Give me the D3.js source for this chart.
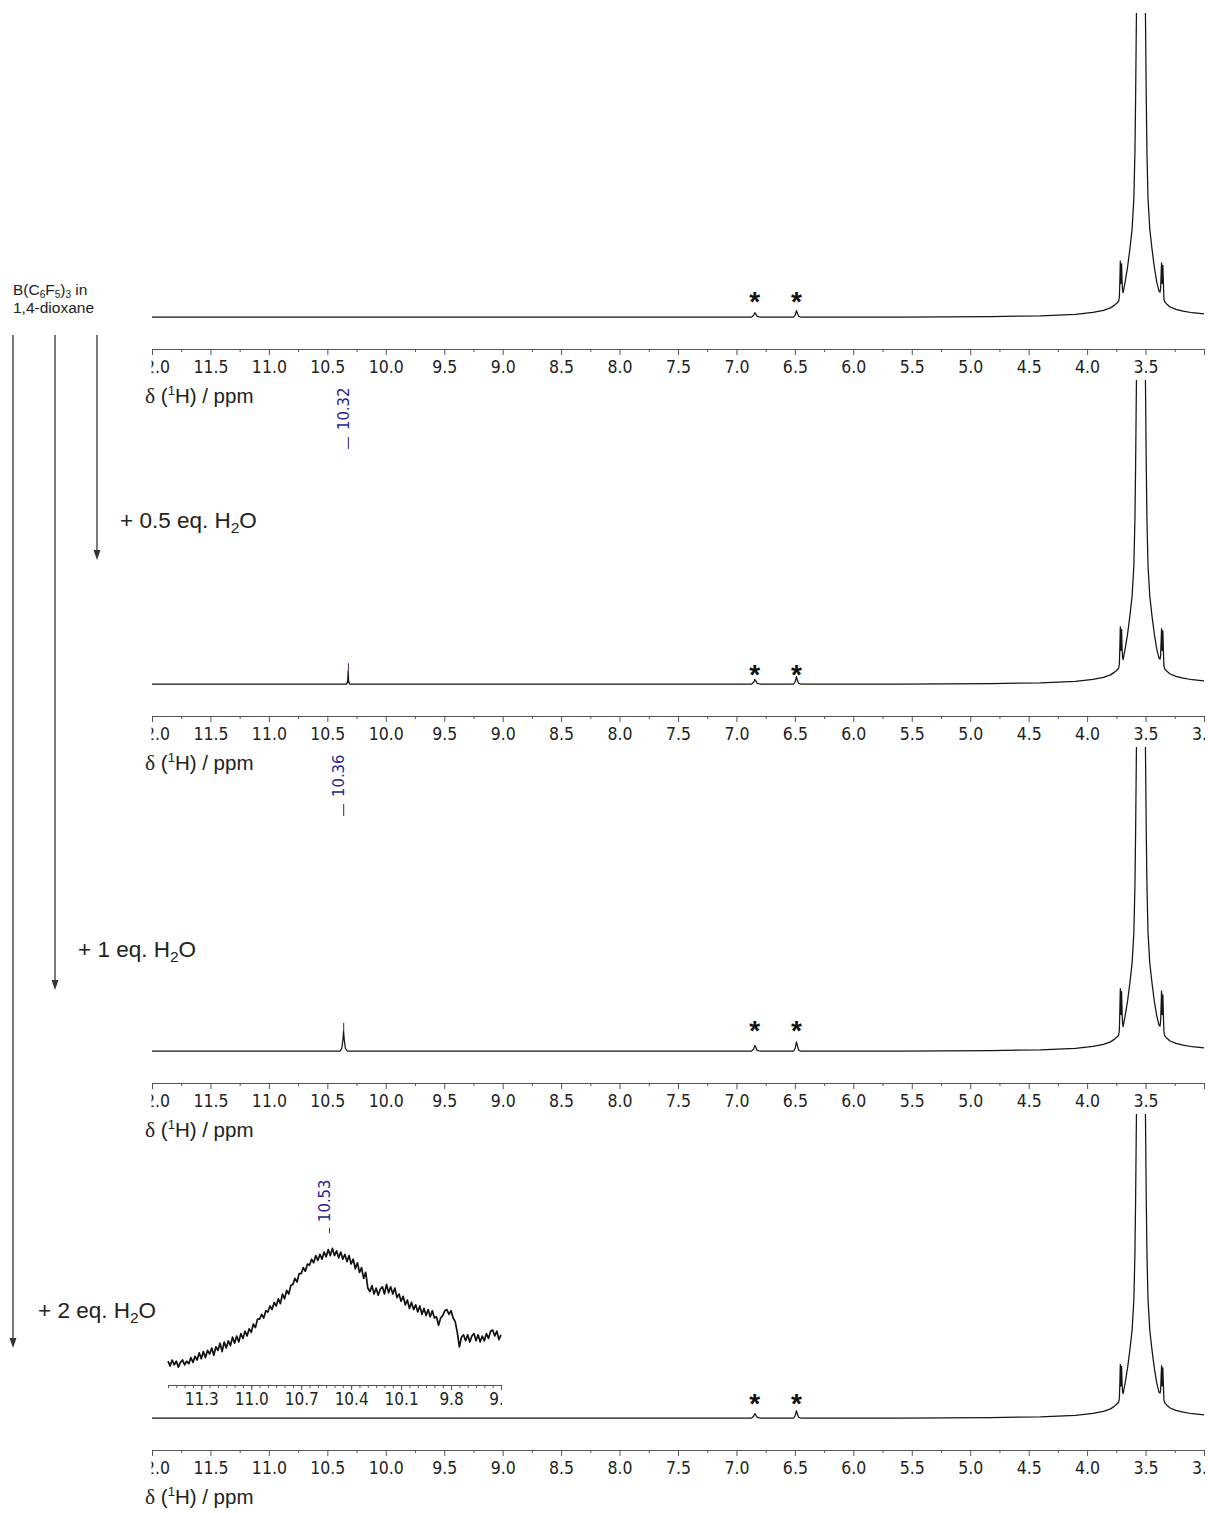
<!DOCTYPE html>
<html>
<head>
<meta charset="utf-8">
<script src="https://cdn.jsdelivr.net/npm/d3@7"></script>
<style>
  body { margin: 0; background: #fff; }
  svg { display: block; }
</style>
</head>
<body>
<div id="chart"></div>
<script>
// ---- data (ppm, intensity in % of panel height) ----
const axisTicks = [12.0, 11.5, 11.0, 10.5, 10.0, 9.5, 9.0, 8.5, 8.0, 7.5, 7.0, 6.5, 6.0, 5.5, 5.0, 4.5, 4.0, 3.5, 3.0];
const minorTicks = [11.75, 11.25, 10.75, 10.25, 9.75, 9.25, 8.75, 8.25, 7.75, 7.25, 6.75, 6.25, 5.75, 5.25, 4.75, 4.25, 3.75, 3.25];
const insetTicks = [11.3, 11.0, 10.7, 10.4, 10.1, 9.8, 9.5];

// dioxane signal, shared by the four spectra (satellites kept per spectrum)
const dioxaneTrace = [
  [12.0, 0], [5.6, 0], [4.82, 0.15], [4.40, 0.4], [4.10, 0.9], [3.95, 1.5], [3.86, 2.2],
  [3.80, 3.0], [3.765, 3.9], [3.745, 4.6], [3.73, 5.2],
  [3.692, 8.0], [3.675, 11.5], [3.654, 16.4], [3.634, 22.4], [3.615, 29], [3.600, 39],
  [3.591, 54], [3.585, 72], [3.578, 100], [3.565, 125], [3.540, 135], [3.515, 125],
  [3.501, 100], [3.494, 72], [3.488, 54], [3.479, 39], [3.464, 29], [3.445, 22.4],
  [3.425, 16.4], [3.404, 11.5], [3.385, 8.5], [3.376, 8.2],
  [3.336, 5.0], [3.32, 4.3], [3.29, 3.3], [3.24, 2.5], [3.18, 1.9], [3.10, 1.4], [3.0, 1.0]
];

const peaks1 = [
  [6.87, 0], [6.852, 0.6], [6.843, 1.4], [6.835, 1.0], [6.822, 0.2], [6.80, 0],
  [6.51, 0], [6.496, 0.8], [6.487, 2.1], [6.479, 1.3], [6.468, 0.2], [6.45, 0],
  [3.724, 6.5], [3.719, 13], [3.716, 18.4], [3.711, 11], [3.705, 17.5], [3.701, 12], [3.697, 9],
  [3.371, 9.5], [3.366, 15], [3.363, 17.8], [3.358, 11], [3.352, 17], [3.348, 12], [3.343, 6]
];
const peaks2 = [
  [10.335, 0], [10.326, 0.8], [10.322, 4.2], [10.318, 0.8], [10.309, 0],
  [6.87, 0], [6.852, 0.6], [6.843, 1.5], [6.835, 1.1], [6.822, 0.2], [6.80, 0],
  [6.51, 0], [6.496, 0.9], [6.487, 2.4], [6.479, 1.4], [6.468, 0.2], [6.45, 0],
  [3.724, 6.5], [3.719, 13.5], [3.716, 18.8], [3.711, 11], [3.705, 18], [3.701, 12], [3.697, 9],
  [3.371, 9.5], [3.366, 15], [3.363, 18.2], [3.358, 11], [3.352, 17.5], [3.348, 12], [3.343, 6]
];
const peaks3 = [
  [10.39, 0], [10.376, 1.0], [10.367, 3.6], [10.361, 6.6], [10.355, 3.6], [10.346, 1.0], [10.33, 0],
  [6.87, 0], [6.852, 0.7], [6.843, 1.8], [6.835, 1.3], [6.822, 0.2], [6.80, 0],
  [6.51, 0], [6.496, 1.1], [6.487, 3.0], [6.479, 1.8], [6.468, 0.3], [6.45, 0],
  [3.724, 7], [3.719, 15], [3.716, 20.5], [3.711, 12], [3.705, 19.5], [3.701, 13], [3.697, 9.5],
  [3.371, 10], [3.366, 16], [3.363, 19.8], [3.358, 12], [3.352, 18.5], [3.348, 12.5], [3.343, 6.5]
];
const peaks4 = [
  [6.87, 0], [6.852, 0.6], [6.843, 1.4], [6.835, 1.0], [6.822, 0.2], [6.80, 0],
  [6.51, 0], [6.496, 0.9], [6.487, 2.4], [6.479, 1.4], [6.468, 0.2], [6.45, 0],
  [3.724, 6.5], [3.719, 12.5], [3.716, 17.6], [3.711, 10.5], [3.705, 17], [3.701, 11.5], [3.697, 8.8],
  [3.371, 9.2], [3.366, 14.5], [3.363, 17.2], [3.358, 10.5], [3.352, 16.5], [3.348, 11.5], [3.343, 6]
];
const spectraPeaks = [peaks1, peaks2, peaks3, peaks4];

const starShifts = [6.843, 6.487];
const peakLabels = [null, 10.32, 10.36, null];
const showEndLabel = [false, true, false, true];

// inset of the 2 eq. spectrum, 11.5 -> 9.5 ppm in 0.0125 ppm steps
const insetStart = 11.5, insetStep = -0.0125;
const insetIntensity = [
  9, 5, 10, 6, 9, 4, 8, 10, 6, 9,
  7, 12, 8, 13, 10, 16, 11, 17, 12, 18,
  15, 20, 14, 21, 18, 24, 17, 25, 20, 26,
  22, 29, 24, 30, 25, 32, 28, 34, 30, 36,
  33, 40, 37, 44, 44, 48, 45, 51, 50, 55,
  52, 58, 55, 61, 57, 65, 61, 68, 65, 72,
  73, 78, 75, 82, 82, 87, 84, 90, 89, 94,
  91, 97, 93, 98, 94, 100, 96, 102, 97, 103,
  97, 101, 95, 100, 94, 98, 92, 97, 90, 94,
  86, 91, 83, 87, 78, 83, 70, 67, 72, 65,
  70, 64, 69, 71, 65, 73, 66, 71, 65, 70,
  62, 65, 59, 63, 56, 60, 53, 58, 52, 56,
  50, 55, 48, 53, 47, 52, 46, 51, 45, 46,
  39, 45, 47, 51, 52, 48, 51, 45, 42, 33,
  21, 29, 31, 26, 31, 25, 30, 32, 26, 31,
  25, 30, 26, 32, 28, 34, 35, 30, 34, 27, 31
];
const insetLabel = 10.53;

const waterEq = ["0.5", "1", "2"];

// ---- layout ----
const width = 1208, height = 1513;
const axisY = [349, 716, 1083, 1450];
const starLift = [22, 16, 27, 21];
const tickFont = "'DejaVu Sans Condensed', 'DejaVu Sans', sans-serif";
const textFont = "'Liberation Sans', Arial, sans-serif";
const blue = "#26268f";

const svg = d3.select("#chart").append("svg")
  .attr("width", width)
  .attr("height", height)
  .style("font-family", textFont);

const defs = svg.append("defs");

const x = d3.scaleLinear().domain([12, 3]).range([152, 1204]);

spectraPeaks.forEach((peaks, i) => {
  const ay = axisY[i];
  const y = d3.scaleLinear().domain([0, 100]).range([ay - 32, ay - 336]);
  const g = svg.append("g");

  defs.append("clipPath").attr("id", "plot" + i).append("rect")
    .attr("x", 151).attr("y", ay - 336).attr("width", 1057).attr("height", 320);
  defs.append("clipPath").attr("id", "ax" + i).append("rect")
    .attr("x", 151.5).attr("y", ay - 3).attr("width", 1053.5).attr("height", 40);

  const pts = dioxaneTrace.concat(peaks).sort((a, b) => b[0] - a[0]);
  g.append("path")
    .datum(pts)
    .attr("clip-path", `url(#plot${i})`)
    .attr("fill", "none")
    .attr("stroke", "#151515")
    .attr("stroke-width", 1.25)
    .attr("stroke-linejoin", "round")
    .attr("d", d3.line().x(d => x(d[0])).y(d => y(d[1])));

  // asterisks over the impurity peaks
  starShifts.forEach(s => {
    g.append("text")
      .attr("x", x(s))
      .attr("y", y(0) - starLift[i] + 16)
      .attr("text-anchor", "middle")
      .attr("font-weight", "bold")
      .attr("font-size", 28)
      .attr("fill", "#111")
      .text("*");
  });

  // axis
  const axG = g.append("g").attr("clip-path", `url(#ax${i})`);
  axG.append("g")
    .attr("transform", `translate(0,${ay})`)
    .call(d3.axisBottom(x).tickValues(minorTicks).tickSize(3).tickSizeOuter(0).tickFormat(""))
    .call(a => a.select(".domain").remove())
    .call(a => a.selectAll("line").attr("stroke", "#555"));
  axG.append("g")
    .attr("transform", `translate(0,${ay})`)
    .call(d3.axisBottom(x).tickValues(axisTicks).tickSize(6).tickSizeOuter(0).tickPadding(6)
      .tickFormat(v => (v === 3.0 && !showEndLabel[i]) ? "" : d3.format(".1f")(v)))
    .call(a => a.select(".domain").attr("stroke", "#555"))
    .call(a => a.selectAll("line").attr("stroke", "#555"))
    .call(a => a.selectAll("text")
      .attr("font-family", tickFont)
      .attr("font-size", 17.5)
      .attr("fill", "#222"));

  // axis title
  const t = g.append("text")
    .attr("x", 145)
    .attr("y", ay + 54)
    .attr("font-size", 20.5)
    .attr("fill", "#222");
  t.append("tspan").attr("font-family", "'Liberation Serif', serif").attr("font-size", 21.5).text("δ");
  t.append("tspan").text(" (");
  t.append("tspan").attr("font-size", 13).attr("dy", -8).text("1");
  t.append("tspan").attr("dy", 8).text("H) / ppm");

  // peak label
  if (peakLabels[i] !== null) {
    const px = x(peakLabels[i]);
    g.append("text")
      .attr("transform", `translate(${px + 0.5},${ay - 286}) rotate(-90)`)
      .attr("font-family", tickFont)
      .attr("font-size", 16.5)
      .attr("fill", blue)
      .text(d3.format(".2f")(peakLabels[i]));
    g.append("line")
      .attr("x1", px).attr("x2", px)
      .attr("y1", ay - 279).attr("y2", ay - 267)
      .attr("stroke", blue).attr("stroke-width", 1);
    const top = d3.max(peaks.filter(d => Math.abs(d[0] - peakLabels[i]) < 0.05), d => d[1]);
    g.append("line")
      .attr("x1", px).attr("x2", px)
      .attr("y1", y(top) - 8).attr("y2", y(top))
      .attr("stroke", blue).attr("stroke-width", 1);
  }
});

// ---- inset (2 eq. H2O, broad signal) ----
const ay4 = axisY[3];
const xi = d3.scaleLinear().domain([11.5, 9.5]).range([168, 501]);
const yi = d3.scaleLinear().domain([0, 100]).range([ay4 - 78, ay4 - 198]);
const inset = svg.append("g");
const insetPts = insetIntensity.map((v, k) => [insetStart + k * insetStep, v]);

inset.append("path")
  .datum(insetPts)
  .attr("fill", "none")
  .attr("stroke", "#111")
  .attr("stroke-width", 1.7)
  .attr("stroke-linejoin", "round")
  .attr("d", d3.line().x(d => xi(d[0])).y(d => yi(d[1])));

defs.append("clipPath").attr("id", "axInset").append("rect")
  .attr("x", 166).attr("y", ay4 - 68).attr("width", 336).attr("height", 30);

const insetMinor = d3.range(0, 41).map(k => +(11.5 - k * 0.05).toFixed(2));
const insetAx = inset.append("g").attr("clip-path", "url(#axInset)");
insetAx.append("g")
  .attr("transform", `translate(0,${ay4 - 65})`)
  .call(d3.axisBottom(xi).tickValues(insetMinor).tickSize(3).tickSizeOuter(0).tickFormat(""))
  .call(a => a.select(".domain").attr("stroke", "#555"))
  .call(a => a.selectAll("line").attr("stroke", "#555"));
insetAx.append("g")
  .attr("transform", `translate(0,${ay4 - 65})`)
  .call(d3.axisBottom(xi).tickValues(insetTicks).tickSize(5).tickSizeOuter(0).tickPadding(3)
    .tickFormat(d3.format(".1f")))
  .call(a => a.select(".domain").remove())
  .call(a => a.selectAll("line").attr("stroke", "#555"))
  .call(a => a.selectAll("text")
    .attr("font-family", tickFont)
    .attr("font-size", 17)
    .attr("fill", "#222"));

const ix = xi(insetLabel);
inset.append("text")
  .attr("transform", `translate(${ix + 0.5},${yi(100) - 30}) rotate(-90)`)
  .attr("font-family", tickFont)
  .attr("font-size", 16.5)
  .attr("fill", blue)
  .text(d3.format(".2f")(insetLabel));
inset.append("line")
  .attr("x1", ix).attr("x2", ix)
  .attr("y1", yi(100) - 24).attr("y2", yi(100) - 19)
  .attr("stroke", blue).attr("stroke-width", 1);

// ---- left-hand annotation: sample and arrows ----
const head = svg.append("text").attr("font-size", 15.5).attr("fill", "#222");
const l1 = head.append("tspan").attr("x", 13).attr("y", 295);
l1.append("tspan").text("B(C");
l1.append("tspan").attr("font-size", 10).attr("dy", 3).text("6");
l1.append("tspan").attr("dy", -3).text("F");
l1.append("tspan").attr("font-size", 10).attr("dy", 3).text("5");
l1.append("tspan").attr("dy", -3).text(")");
l1.append("tspan").attr("font-size", 10).attr("dy", 3).text("3");
l1.append("tspan").attr("dy", -3).text(" in");
head.append("tspan").attr("x", 13).attr("y", 313).text("1,4-dioxane");

const arrowX = [97, 55, 13];
const arrowEnd = [560, 990, 1348];
const labelX = [120, 78, 38];
const labelY = [528, 957, 1318];

waterEq.forEach((eq, k) => {
  svg.append("line")
    .attr("x1", arrowX[k]).attr("x2", arrowX[k])
    .attr("y1", 335).attr("y2", arrowEnd[k] - 8)
    .attr("stroke", "#333").attr("stroke-width", 1.3);
  svg.append("path")
    .attr("d", `M${arrowX[k] - 3.5},${arrowEnd[k] - 10}L${arrowX[k] + 3.5},${arrowEnd[k] - 10}L${arrowX[k]},${arrowEnd[k]}Z`)
    .attr("fill", "#333");
  const t = svg.append("text")
    .attr("x", labelX[k]).attr("y", labelY[k])
    .attr("font-size", 22.5).attr("fill", "#222");
  t.append("tspan").text(`+ ${eq} eq. H`);
  t.append("tspan").attr("font-size", 15.5).attr("dy", 5).text("2");
  t.append("tspan").attr("dy", -5).text("O");
});
</script>
</body>
</html>
